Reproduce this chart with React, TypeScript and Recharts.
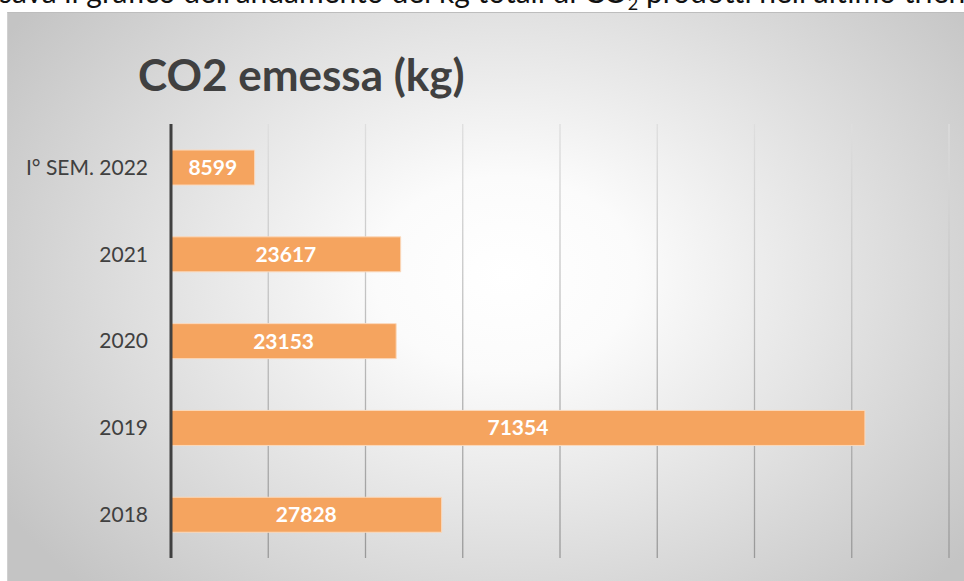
import { BarChart, Bar, XAxis, YAxis, CartesianGrid, LabelList } from "recharts";

const categories = ["I° SEM. 2022", "2021", "2020", "2019", "2018"];
const emissions = [8599, 23617, 23153, 71354, 27828];
const xTicks = [0, 10000, 20000, 30000, 40000, 50000, 60000, 70000, 80000];

const data = categories.map((name, i) => ({ name, value: emissions[i] }));

const FONT = "Lato, 'Open Sans', sans-serif";

export default function App() {
  return (
    <div
      style={{
        position: "fixed",
        left: 0,
        top: 0,
        width: 964,
        height: 581,
        overflow: "hidden",
        background: "#fff",
        fontFamily: FONT,
      }}
    >
      {/* line of document text above the chart, cut off at the top */}
      <div
        style={{
          position: "absolute",
          left: -1,
          top: -27,
          fontSize: 30,
          whiteSpace: "nowrap",
          color: "#111",
        }}
      >
        sava il grafico dell'andamento dei kg totali di CO<sub style={{ fontSize: 18 }}>2</sub> prodotti nell'ultimo triennio
      </div>

      <div
        style={{
          position: "absolute",
          left: 7,
          top: 12,
          width: 957,
          height: 568,
          borderTop: "1px solid #bdbdbd",
          borderLeft: "1px solid #d0d0d0",
          background:
            "radial-gradient(ellipse 62% 78% at 52% 46%, #ffffff 0%, #fbfbfb 22%, #e4e4e4 55%, #c4c4c4 100%)",
        }}
      />

      <div
        style={{
          position: "absolute",
          left: 138,
          top: 48,
          fontSize: 44,
          fontWeight: 700,
          color: "#404040",
          whiteSpace: "nowrap",
        }}
      >
        CO2 emessa (kg)
      </div>

      <div style={{ position: "absolute", left: 0, top: 0 }}>
        <BarChart
          width={964}
          height={581}
          data={data}
          layout="vertical"
          margin={{ top: 124, right: 15, bottom: 23, left: 0 }}
          barCategoryGap="30%"
        >
          <defs>
            <linearGradient id="gridGrad" gradientUnits="userSpaceOnUse" x1="0" y1="124" x2="0" y2="558">
              <stop offset="0%" stopColor="#dedede" />
              <stop offset="100%" stopColor="#999999" />
            </linearGradient>
          </defs>
          <CartesianGrid horizontal={false} stroke="url(#gridGrad)" strokeWidth={1.3} />
          <XAxis
            type="number"
            domain={[0, 80000]}
            ticks={xTicks}
            tick={{ fill: "none", fontSize: 1 }}
            axisLine={false}
            tickLine={false}
            height={0}
          />
          <YAxis
            type="category"
            dataKey="name"
            width={171}
            axisLine={{ stroke: "#404040", strokeWidth: 3 }}
            tickLine={false}
            tickMargin={17}
            tick={{ fill: "#404040", fontSize: 21, fontFamily: FONT }}
          />
          <Bar
            dataKey="value"
            fill="#f5a45f"
            stroke="#fbd9bc"
            strokeWidth={1}
            isAnimationActive={false}
          >
            <LabelList
              dataKey="value"
              position="center"
              fill="#ffffff"
              fontSize={21}
              fontWeight={700}
              fontFamily={FONT}
            />
          </Bar>
        </BarChart>
      </div>
    </div>
  );
}
